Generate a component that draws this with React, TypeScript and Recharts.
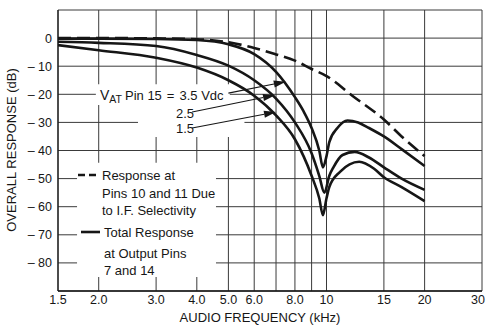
import { LineChart, Line, XAxis, YAxis, CartesianGrid, ReferenceLine, ReferenceArea } from 'recharts';

// frequencies in kHz, responses in dB
const freqIF = [1.5, 2, 3, 4, 5, 6, 7, 8, 9, 10, 12, 15, 17, 20];
const respIF = [0, 0, -0.1, -0.4, -1.5, -3.5, -5.8, -8, -11, -13.5, -20.5, -29, -35, -42];

const freq35 = [1.5, 2, 3, 4, 5, 6, 7, 8, 8.5, 9, 9.5, 9.75, 10, 10.2, 10.8, 11.6, 12.5, 13.5, 15, 17, 20];
const resp35 = [-0.2, -0.2, -0.3, -0.7, -2.2, -5.7, -12, -21, -26, -32, -40, -46, -42, -37, -32, -29.3, -30, -32, -35, -39.5, -45.5];

const freq25 = [1.5, 2, 3, 4, 5, 6, 7, 8, 9, 9.5, 9.85, 10.2, 10.5, 11.2, 12.2, 13.5, 15, 17, 20];
const resp25 = [-1.3, -1.7, -2.8, -6, -9.8, -15, -21.5, -30, -41, -49, -55, -49, -46, -41.6, -40.5, -42.5, -46, -50, -54];

const freq15 = [1.5, 2, 3, 4, 5, 6, 7, 8, 9, 9.5, 9.75, 10, 10.2, 11, 12.6, 14, 15, 17, 20];
const resp15 = [-2.5, -4.3, -7, -10.5, -15, -20.5, -27.5, -36, -49, -57, -63, -57, -53, -47.6, -44, -46.5, -49.5, -53, -58];

const xTicks = [1.5, 2, 3, 4, 5, 6, 7, 8, 9, 10, 15, 20, 30];
const xTickLabels = ['1.5', '2.0', '3.0', '4.0', '5.0', '6.0', '', '8.0', '', '10', '15', '20', '30'];
const yTicks = [10, 0, -10, -20, -30, -40, -50, -60, -70, -80, -90];

const toPoints = (f: number[], r: number[]) => f.map((x, i) => ({ f: x, db: r[i] }));

const FONT = '"Liberation Sans", Arial, sans-serif';
const INK = '#161616';

const Arrow = (p: any) => {
  const { x1, y1, x2, y2 } = p;
  const a = Math.atan2(y2 - y1, x2 - x1);
  const len = 12;
  const w = 3.5;
  const bx = x2 - len * Math.cos(a);
  const by = y2 - len * Math.sin(a);
  const nx = -Math.sin(a) * w;
  const ny = Math.cos(a) * w;
  return (
    <g>
      <line x1={x1} y1={y1} x2={bx} y2={by} stroke={INK} strokeWidth={1.2} />
      <polygon points={`${x2},${y2} ${bx + nx},${by + ny} ${bx - nx},${by - ny}`} fill={INK} />
    </g>
  );
};

const XTick = (p: any) => {
  const { x, y, payload } = p;
  const label = xTickLabels[xTicks.indexOf(payload.value)] ?? '';
  const last = payload.value === 30;
  return (
    <text x={last ? x + 3 : x} y={y} dy="0.71em" textAnchor={last ? 'end' : 'middle'} fontFamily={FONT} fontSize={12.5} fill={INK}>
      {label}
    </text>
  );
};

export default function App() {
  const txt = { fontFamily: FONT, fontSize: 13, fill: INK };
  return (
    <div style={{ position: 'absolute', left: 0, top: 0, width: 487, height: 329, background: '#fff' }}>
      <LineChart width={487} height={329} margin={{ top: 10, right: 5, bottom: 8, left: 8 }}>
        <CartesianGrid stroke="#3a3a3a" strokeWidth={1} />
        <XAxis
          type="number"
          dataKey="f"
          scale="log"
          domain={[1.5, 30]}
          ticks={xTicks}
          allowDataOverflow
          height={30}
          tickSize={0}
          tickMargin={4}
          tickLine={false}
          axisLine={{ stroke: INK, strokeWidth: 1.5 }}
          tick={<XTick />}
          interval={0}
        />
        <YAxis
          type="number"
          domain={[-90, 10]}
          ticks={yTicks}
          allowDataOverflow
          width={50}
          tickSize={0}
          tickMargin={6}
          tickLine={false}
          axisLine={{ stroke: INK, strokeWidth: 1.2 }}
          tickFormatter={(v: number) => (v === 0 ? '0' : v === 10 || v === -90 ? '' : `\u2013 ${-v}`)}
          tick={{ fontFamily: FONT, fontSize: 12.5, fill: INK }}
          interval={0}
        />
        <ReferenceArea x1={1.716} x2={4.58} y1={-85} y2={-44.4} fill="#fff" fillOpacity={1} stroke="none" ifOverflow="visible" />
        <ReferenceArea x1={1.96} x2={5.05} y1={-23.8} y2={-16.4} fill="#fff" fillOpacity={1} stroke="none" ifOverflow="visible" />
        <ReferenceArea x1={2.64} x2={5.6} y1={-35.2} y2={-23.8} fill="#fff" fillOpacity={1} stroke="none" ifOverflow="visible" />
        <ReferenceLine segment={[{ x: 5.0, y: -19.6 }, { x: 7.5, y: -15.5 }]} shape={Arrow} ifOverflow="visible" />
        <ReferenceLine segment={[{ x: 3.87, y: -26.3 }, { x: 6.95, y: -20.3 }]} shape={Arrow} ifOverflow="visible" />
        <ReferenceLine segment={[{ x: 3.87, y: -32 }, { x: 7.0, y: -26.3 }]} shape={Arrow} ifOverflow="visible" />
        <Line data={toPoints(freqIF, respIF)} dataKey="db" type="monotone" stroke={INK} strokeWidth={2.6} strokeDasharray="13 6" dot={false} isAnimationActive={false} />
        <Line data={toPoints(freq35, resp35)} dataKey="db" type="monotone" stroke={INK} strokeWidth={2.6} dot={false} isAnimationActive={false} />
        <Line data={toPoints(freq25, resp25)} dataKey="db" type="monotone" stroke={INK} strokeWidth={2.6} dot={false} isAnimationActive={false} />
        <Line data={toPoints(freq15, resp15)} dataKey="db" type="monotone" stroke={INK} strokeWidth={2.6} dot={false} isAnimationActive={false} />
      </LineChart>
      <svg width={487} height={329} style={{ position: 'absolute', left: 0, top: 0, pointerEvents: 'none' }}>
        <text {...txt} x={13} y={150} textAnchor="middle" dominantBaseline="middle" transform="rotate(-90 13 150)">
          OVERALL RESPONSE (dB)
        </text>
        <text {...txt} x={260} y={322} textAnchor="middle">AUDIO FREQUENCY (kHz)</text>
        <text {...txt} x={100} y={100} fontSize={14}>
          V<tspan fontSize={10.5} dy={3}>AT</tspan>
          <tspan dy={-3} dx={3} fontSize={13}>Pin 15</tspan>
          <tspan dx={5} fontSize={13}>=</tspan>
          <tspan dx={5} fontSize={13}>3.5 Vdc</tspan>
        </text>
        <text {...txt} x={176} y={118}>2.5</text>
        <text {...txt} x={176} y={133}>1.5</text>
        <line x1={78} y1={175} x2={100} y2={175} stroke={INK} strokeWidth={2.6} strokeDasharray="7 4" />
        <text {...txt} x={102} y={180}>Response at</text>
        <text {...txt} x={102} y={198}>Pins 10 and 11 Due</text>
        <text {...txt} x={102} y={215}>to I.F. Selectivity</text>
        <line x1={81} y1={232} x2={100} y2={232} stroke={INK} strokeWidth={2.6} />
        <text {...txt} x={104} y={237}>Total Response</text>
        <text {...txt} x={104} y={258}>at Output Pins</text>
        <text {...txt} x={104} y={275}>7 and 14</text>
      </svg>
    </div>
  );
}
